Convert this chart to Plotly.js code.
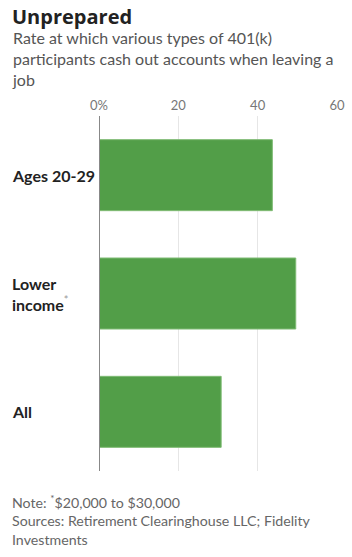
<!DOCTYPE html>
<html>
<head>
<meta charset="utf-8">
<script src="https://cdn.plot.ly/plotly-3.0.1.min.js"></script>
<style>
html,body{margin:0;padding:0;background:#fff;}
#chart{width:352px;height:557px;}
</style>
</head>
<body>
<div id="chart"></div>
<script>
const categories = ["Ages 20-29", "Lower income", "All"];
const categoryLabels = ["<b>Ages 20-29</b>", "<b>Lower<br>income</b><sup><span style='color:#999'>*</span></sup>", "<b>All</b>"];
const values = [43.7, 49.6, 30.8];
const tickValues = [0, 20, 40, 60];
const tickLabels = ["0%", "20", "40", "60"];

const FONT = "Lato, 'Noto Sans', sans-serif";

const trace = {
  type: "bar",
  orientation: "h",
  x: values,
  y: categories,
  width: 0.6,
  marker: {color: "#529e48", line: {color: "#7fbb74", width: 1}},
  hoverinfo: "skip"
};

const LX = -0.376;

const annotations = categories.map((c, i) => ({
  xref: "paper", yref: "y",
  x: LX, y: c,
  xanchor: "left", yanchor: "middle", align: "left",
  text: categoryLabels[i],
  showarrow: false,
  font: {family: FONT, size: 16, color: "#222"}
}));

annotations.push({
  xref: "paper", yref: "paper", x: LX, y: 1.0, yshift: 25,
  xanchor: "left", yanchor: "bottom", align: "left",
  text: "Rate at which various types of 401(k)<br>participants cash out accounts when leaving a<br>job",
  showarrow: false,
  font: {family: FONT, size: 16, color: "#555"}
});
annotations.push({
  xref: "paper", yref: "paper", x: LX, y: 1.0, yshift: 84,
  xanchor: "left", yanchor: "bottom", align: "left",
  text: "<b>Unprepared</b>",
  showarrow: false,
  font: {family: "'Open Sans', Lato, sans-serif", size: 20, color: "#222"}
});
annotations.push({
  xref: "paper", yref: "paper", x: LX, y: 0, yshift: -19,
  xanchor: "left", yanchor: "top", align: "left",
  text: "Note: <sup>*</sup>$20,000 to $30,000<br>Sources: Retirement Clearinghouse LLC; Fidelity<br>Investments",
  showarrow: false,
  font: {family: FONT, size: 14.2, color: "#666"}
});

const layout = {
  width: 352, height: 557,
  margin: {l: 99, r: 15, t: 116, b: 86},
  paper_bgcolor: "#fff", plot_bgcolor: "#fff",
  showlegend: false,
  bargap: 0.4,
  xaxis: {
    side: "top", range: [0, 60],
    tickvals: tickValues, ticktext: tickLabels,
    showgrid: true, gridcolor: "#e6e6e6", gridwidth: 1,
    zeroline: false, showline: false, ticks: "",
    ticklabelstandoff: 2,
    tickfont: {family: FONT, size: 13, color: "#777"},
    fixedrange: true
  },
  yaxis: {
    type: "category", categoryorder: "array", categoryarray: categories,
    autorange: "reversed", range: [2.5, -0.5],
    showticklabels: false, showgrid: false, zeroline: false,
    showline: false, ticks: "", fixedrange: true
  },
  shapes: [{
    type: "line", xref: "x", yref: "paper", x0: 0, x1: 0, y0: 0, y1: 1,
    line: {color: "#888", width: 2}
  }],
  annotations: annotations
};

Plotly.newPlot("chart", [trace], layout, {displayModeBar: false, staticPlot: true});
</script>
</body>
</html>
